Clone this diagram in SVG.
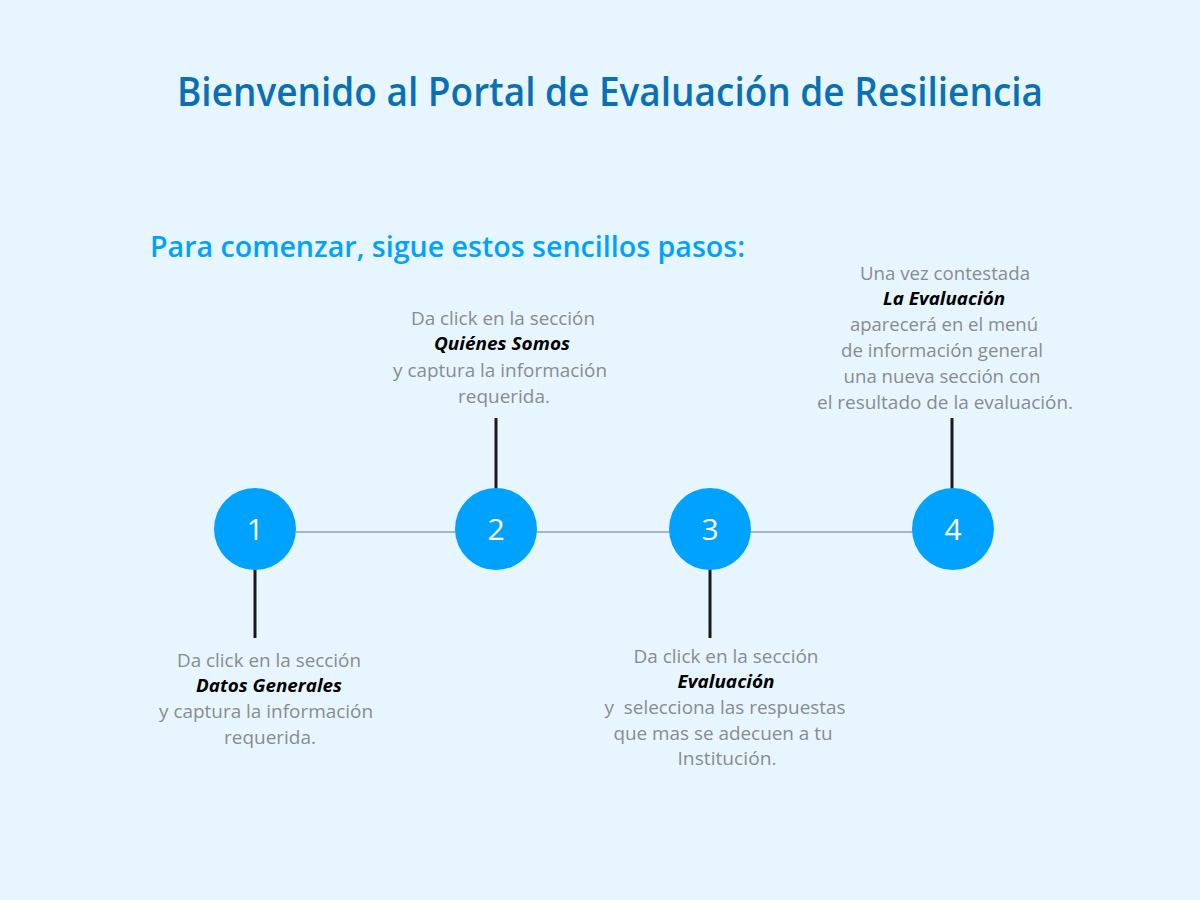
<svg xmlns="http://www.w3.org/2000/svg" width="1200" height="900" viewBox="0 0 1200 900">
<style>
.title{font-family:"Open Sans","Noto Sans",sans-serif;font-weight:600;font-size:39px;fill:#0a70b5}
.sub{font-family:"Open Sans","Noto Sans",sans-serif;font-weight:600;font-size:28px;fill:#00a2ff}
.t{font-family:"Open Sans","Noto Sans",sans-serif;font-size:18px;fill:#888c90;text-anchor:middle}
.b{font-family:"Open Sans","Noto Sans",sans-serif;font-size:17px;font-weight:bold;font-style:italic;fill:#000;text-anchor:middle}
.c{fill:#00a2ff}
.n{font-family:"Open Sans","Noto Sans",sans-serif;font-size:30px;font-weight:500;fill:#fff;text-anchor:middle}
.tl{stroke:#aab4bc;stroke-width:2}
.st{stroke:#1a1a1a;stroke-width:3}
</style>
<rect width="1200" height="900" fill="#e7f5fe"/>
<text class="title" x="177" y="106" textLength="866" lengthAdjust="spacingAndGlyphs">Bienvenido al Portal de Evaluación de Resiliencia</text>
<text class="sub" x="150" y="257" textLength="595" lengthAdjust="spacingAndGlyphs">Para comenzar, sigue estos sencillos pasos:</text>
<g id="connectors">
<line class="tl" x1="296" y1="532" x2="913" y2="532"/>
<line class="st" x1="255" y1="568" x2="255" y2="638"/>
<line class="st" x1="496" y1="418" x2="496" y2="490"/>
<line class="st" x1="710" y1="568" x2="710" y2="638"/>
<line class="st" x1="952" y1="418" x2="952" y2="490"/>
</g>
<g id="step1">
<circle class="c" cx="255" cy="529" r="41"/>
<text class="n" x="255" y="540">1</text>
<text class="t" x="269" y="667" textLength="184" lengthAdjust="spacingAndGlyphs">Da click en la sección</text>
<text class="b" x="269" y="692" textLength="146" lengthAdjust="spacingAndGlyphs">Datos Generales</text>
<text class="t" x="266" y="718" textLength="214" lengthAdjust="spacingAndGlyphs">y captura la información</text>
<text class="t" x="270" y="744" textLength="92" lengthAdjust="spacingAndGlyphs">requerida.</text>
</g>
<g id="step2">
<circle class="c" cx="496" cy="529" r="41"/>
<text class="n" x="496" y="540">2</text>
<text class="t" x="503" y="325" textLength="184" lengthAdjust="spacingAndGlyphs">Da click en la sección</text>
<text class="b" x="502" y="350" textLength="136" lengthAdjust="spacingAndGlyphs">Quiénes Somos</text>
<text class="t" x="500" y="377" textLength="214" lengthAdjust="spacingAndGlyphs">y captura la información</text>
<text class="t" x="504" y="403" textLength="92" lengthAdjust="spacingAndGlyphs">requerida.</text>
</g>
<g id="step3">
<circle class="c" cx="710" cy="529" r="41"/>
<text class="n" x="710" y="540">3</text>
<text class="t" x="726" y="663" textLength="185" lengthAdjust="spacingAndGlyphs">Da click en la sección</text>
<text class="b" x="726" y="688" textLength="97" lengthAdjust="spacingAndGlyphs">Evaluación</text>
<text class="t" x="725" y="714" textLength="241" lengthAdjust="spacingAndGlyphs" xml:space="preserve">y  selecciona las respuestas</text>
<text class="t" x="723" y="740" textLength="219" lengthAdjust="spacingAndGlyphs">que mas se adecuen a tu</text>
<text class="t" x="727" y="765" textLength="99" lengthAdjust="spacingAndGlyphs">Institución.</text>
</g>
<g id="step4">
<circle class="c" cx="953" cy="529" r="41"/>
<text class="n" x="953" y="540">4</text>
<text class="t" x="945" y="280" textLength="170" lengthAdjust="spacingAndGlyphs">Una vez contestada</text>
<text class="b" x="944" y="305" textLength="122" lengthAdjust="spacingAndGlyphs">La Evaluación</text>
<text class="t" x="944" y="331" textLength="188" lengthAdjust="spacingAndGlyphs">aparecerá en el menú</text>
<text class="t" x="942" y="357" textLength="202" lengthAdjust="spacingAndGlyphs">de información general</text>
<text class="t" x="942" y="383" textLength="197" lengthAdjust="spacingAndGlyphs">una nueva sección con</text>
<text class="t" x="945" y="409" textLength="256" lengthAdjust="spacingAndGlyphs">el resultado de la evaluación.</text>
</g>
</svg>
